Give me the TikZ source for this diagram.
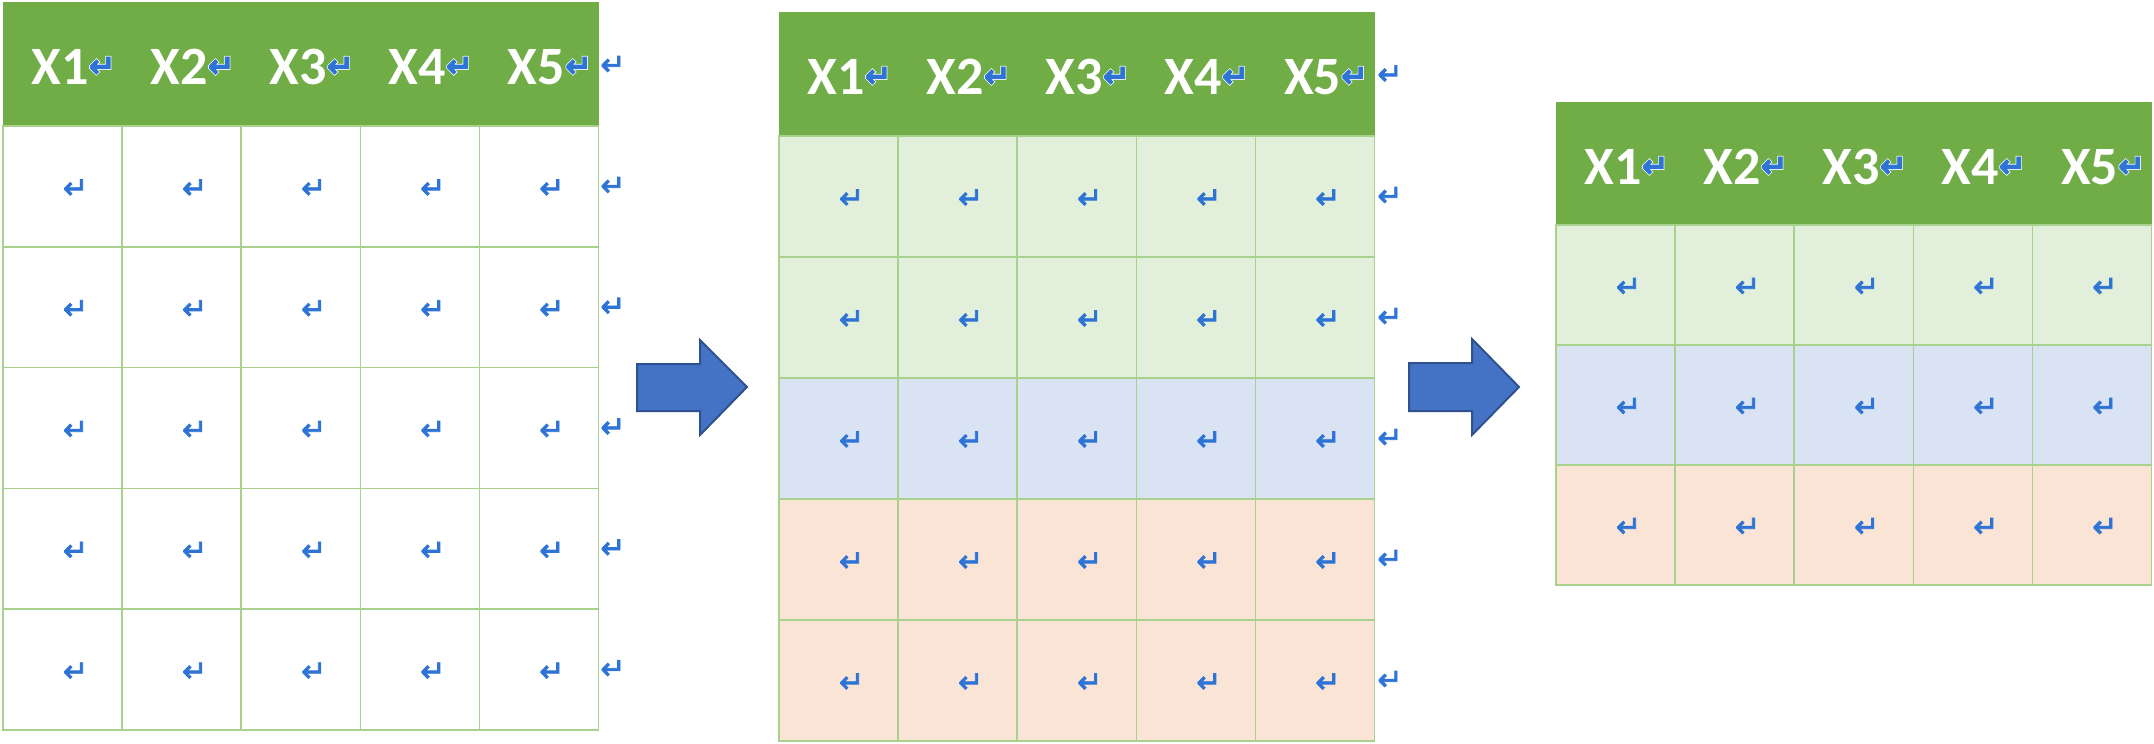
\documentclass[tikz,border=0pt]{standalone}
\usepackage{fontspec}
\newfontfamily\hdfont{Carlito}
\newfontfamily\mkfont[FakeBold=2.5]{DejaVu Sans}
\newfontfamily\mkhalo[FakeBold=7]{DejaVu Sans}
\definecolor{hdgreen}{HTML}{70AD47}
\definecolor{gridgreen}{HTML}{A9D18E}
\definecolor{lgreen}{HTML}{E2EFDA}
\definecolor{lblue}{HTML}{DAE3F3}
\definecolor{lorange}{HTML}{F9E4D6}
\definecolor{mkblue}{HTML}{2E74D6}
\definecolor{arrowblue}{HTML}{4472C4}
\definecolor{arrowedge}{HTML}{2F528F}
\newcommand\mk{{\fontsize{16}{16}\selectfont\raisebox{3.5pt}{\rlap{\mkhalo\color{white}↵}{\mkfont\color{mkblue}↵}}}}
\tikzset{
  hdbox/.style={fill=hdgreen, inner sep=0, outer sep=0, minimum width=297.75pt},
  hdtext/.style={text=white, anchor=base, inner sep=0, font=\hdfont\bfseries\fontsize{27}{27}\selectfont},
  cellbox/.style={draw=gridgreen, line width=0.75pt, inner sep=0, outer sep=0, minimum width=59.55pt},
  retmark/.style={text=mkblue, inner sep=0, font=\mkfont\fontsize{15}{15}\selectfont},
  bigarrow/.style={fill=arrowblue, draw=arrowedge, line width=1pt, line join=miter}
}
\newcommand\mytable[6]{%
  \node[hdbox, minimum height=#4*0.5pt, anchor=north west] (#1hdr) at (#2,#3) {};
  \foreach \i in {1,...,5}{
    \node[hdtext] (#1h\i) at ({#2+(\i-0.5)*119.1+11},{#3+82}) {X\i\mk};
  }
  \foreach \c [count=\r] in {#6}{
    \foreach \i in {1,...,5}{
      \node[cellbox, fill=\c, minimum height=#5*0.5pt] (#1c\r\i) at ({#2+(\i-0.5)*119.1},{#3+#4+(\r-0.5)*#5}) {};
      \node[retmark] (#1m\r\i) at ({#2+(\i-0.5)*119.1+13},{#3+#4+(\r-0.5)*#5+2.5}) {↵};
    }
  }
}
\begin{document}
\begin{tikzpicture}[x=0.5pt,y=-0.5pt]
\useasboundingbox (0,0) rectangle (2154,744);
% table 1
\mytable{ta}{3}{2}{124}{120.8}{white,white,white,white,white}
\foreach \y [count=\k] in {65.5,186.4,307.2,428,548.8,669.6}
  \node[retmark] (tar\k) at (613,\y) {↵};
% table 2
\mytable{tb}{779}{12}{124}{121}{lgreen,lgreen,lblue,lorange,lorange}
\foreach \y [count=\k] in {75,196.5,317.5,438.5,559.5,680.5}
  \node[retmark] (tbr\k) at (1390,\y) {↵};
% table 3
\mytable{tc}{1556}{102}{123}{120}{lgreen,lblue,lorange}
% arrows
\draw[bigarrow] (637,364) -- (700,364) -- (700,340) -- (747,387) -- (700,435) -- (700,411) -- (637,411) -- cycle;
\draw[bigarrow] (1409,363) -- (1472,363) -- (1472,339) -- (1519,387) -- (1472,435) -- (1472,411) -- (1409,411) -- cycle;
\end{tikzpicture}
\end{document}
